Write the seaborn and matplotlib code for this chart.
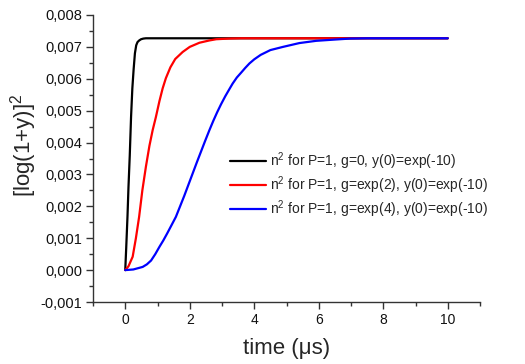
import matplotlib
matplotlib.use("Agg")
import matplotlib.pyplot as plt
import seaborn as sns
import pandas as pd
from matplotlib.ticker import MultipleLocator, FuncFormatter

labels = ["n$^2$ for P=1, g=0, y(0)=exp(-10)",
          "n$^2$ for P=1, g=exp(2), y(0)=exp(-10)",
          "n$^2$ for P=1, g=exp(4), y(0)=exp(-10)"]
colors = ["black", "red", "blue"]

t_black = [0, 0.03, 0.07, 0.10, 0.14, 0.18, 0.22, 0.26, 0.30, 0.34, 0.38, 0.43,
           0.49, 0.56, 0.64, 1.0, 2.0, 5.0, 10.0]
v_black = [0, 0.0007, 0.0017, 0.0026, 0.0036, 0.0048, 0.0057, 0.0063, 0.0068,
           0.00705, 0.00715, 0.0072, 0.00724, 0.00726, 0.00727, 0.00727, 0.00727,
           0.00727, 0.00727]

t_red = [0, 0.10, 0.23, 0.33, 0.43, 0.53, 0.64, 0.75, 0.85, 0.95, 1.06, 1.16, 1.26,
         1.40, 1.55, 1.78, 2.0, 2.3, 2.6, 2.82, 3.2, 3.6, 4.0, 5.0, 10.0]
v_red = [0, 0.00012, 0.00042, 0.0010, 0.00167, 0.0025, 0.00324, 0.0039, 0.00439,
         0.0048, 0.0053, 0.0057, 0.00602, 0.00636, 0.00662, 0.00684, 0.0070,
         0.00713, 0.0072, 0.00724, 0.00726, 0.00727, 0.00727, 0.00727, 0.00727]

t_blue = [0, 0.25, 0.54, 0.67, 0.80, 0.93, 1.06, 1.18, 1.30, 1.43, 1.57, 1.70, 1.83,
          1.96, 2.09, 2.22, 2.35, 2.48, 2.61, 2.73, 2.85, 2.97, 3.1, 3.22, 3.33,
          3.46, 3.6, 3.72, 3.85, 4.0, 4.2, 4.5, 4.89, 5.4, 5.92, 6.5, 6.96, 7.5,
          8.0, 9.0, 10.0]
v_blue = [0, 0.00002, 0.0001, 0.00018, 0.0003, 0.0005, 0.00073, 0.00093, 0.00115,
          0.0014, 0.00167, 0.002, 0.00233, 0.00268, 0.00303, 0.00338, 0.00372,
          0.00406, 0.00439, 0.00468, 0.00495, 0.0052, 0.00545, 0.00566, 0.00585,
          0.00604, 0.0062, 0.00634, 0.00648, 0.00661, 0.00675, 0.0069, 0.0070,
          0.00712, 0.00719, 0.00723, 0.00726, 0.00727, 0.00727, 0.00727, 0.00727]

frames = []
for lab, t, v in zip(labels, [t_black, t_red, t_blue], [v_black, v_red, v_blue]):
    frames.append(pd.DataFrame({"time": t, "val": v, "series": lab}))
df = pd.concat(frames, ignore_index=True)

sns.set_style("ticks")
plt.rcParams["font.family"] = ["Liberation Sans", "DejaVu Sans"]
plt.rcParams["mathtext.fontset"] = "custom"
plt.rcParams["mathtext.rm"] = "Liberation Sans"
plt.rcParams["mathtext.it"] = "Liberation Sans"
plt.rcParams["mathtext.default"] = "rm"

fig = plt.figure(figsize=(5.25, 3.64), dpi=100)
ax = fig.add_axes([93/525, 62/364, 387/525, 287/364])

sns.lineplot(data=df, x="time", y="val", hue="series", hue_order=labels,
             palette=dict(zip(labels, colors)), linewidth=1.6, ax=ax,
             estimator=None, sort=True)

ax.set_xlim(-1, 11)
ax.set_ylim(-0.001, 0.008)
ax.xaxis.set_major_locator(MultipleLocator(2))
ax.xaxis.set_minor_locator(MultipleLocator(1))
ax.yaxis.set_major_locator(MultipleLocator(0.001))
ax.yaxis.set_minor_locator(MultipleLocator(0.0005))
ax.yaxis.set_major_formatter(FuncFormatter(lambda v, p: f"{v:.3f}".replace(".", ",").replace("-0,000", "0,000")))
ax.xaxis.set_major_formatter(FuncFormatter(lambda v, p: f"{v:.0f}"))

for s in ["top", "right"]:
    ax.spines[s].set_visible(False)
for s in ["left", "bottom"]:
    ax.spines[s].set_color("#333333")
    ax.spines[s].set_linewidth(1.0)
ax.tick_params(which="major", direction="out", length=5, width=1, color="#333333",
               labelcolor="#111111", pad=3)
ax.tick_params(axis="x", which="major", labelsize=10)
ax.tick_params(axis="y", which="major", labelsize=10.5)
ax.tick_params(which="minor", direction="out", length=3, width=1, color="#333333")

ax.set_xlabel("time (μs)", fontsize=16, labelpad=8)
ax.set_ylabel("[log(1+y)]$^2$", fontsize=16)
ax.yaxis.set_label_coords(-0.14, 0.545)

handles, labs = ax.get_legend_handles_labels()
ax.legend(handles, labs, loc="upper left", bbox_to_anchor=(0.34, 0.547),
          frameon=False, fontsize=10, handlelength=2.6, handletextpad=0.3,
          labelspacing=0.17, borderaxespad=0)

fig.savefig("out.png", dpi=100)
